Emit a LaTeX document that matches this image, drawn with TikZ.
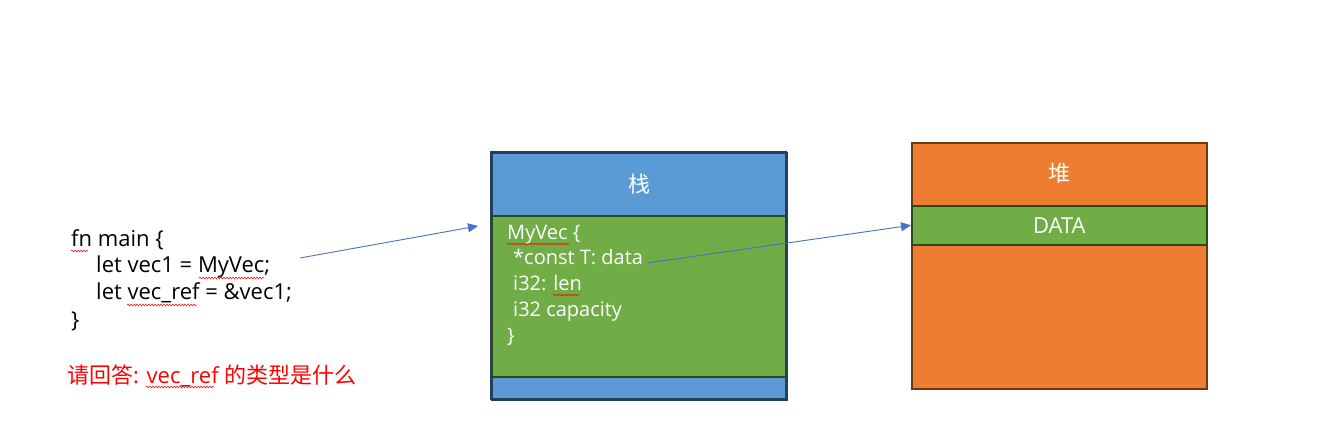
\documentclass[tikz,border=0pt]{standalone}
\usepackage{fontspec}
\setmainfont{Open Sans}
\newfontfamily\cjk{Noto Sans CJK SC}
\usetikzlibrary{arrows.meta,decorations.pathmorphing}
\definecolor{sblue}{HTML}{5B9BD5}
\definecolor{sblueb}{HTML}{223F5C}
\definecolor{sgreen}{HTML}{70AD47}
\definecolor{sgreenb}{HTML}{2B4A1C}
\definecolor{sorange}{HTML}{ED7D31}
\definecolor{sorangeb}{HTML}{6B3A12}
\definecolor{arrowblue}{HTML}{4472C4}
\tikzset{
  x=1pt, y=-1pt,
  cell/.style={draw, line width=1.6pt, minimum width=295pt, inner sep=0pt, anchor=north west, text=white, font=\fontsize{22}{26}\selectfont},
  codetxt/.style={anchor=base west, inner sep=0pt, font=\fontsize{22}{26}\selectfont},
  boxtxt/.style={anchor=base west, inner sep=0pt, text=white, font=\fontsize{20}{24}\selectfont},
  ptr/.style={draw=arrowblue, line width=0.9pt, -{Triangle[length=10pt,width=9pt]}},
  squiggle/.style={draw=red, line width=0.5pt, decorate, decoration={snake, amplitude=0.9pt, segment length=3pt}}
}
\begin{document}
\begin{tikzpicture}
\useasboundingbox (0,0) rectangle (1339,446);
% stack
\node[cell, fill=sblue, draw=sblueb, minimum height=63pt] (stacktop) at (491,152) {\cjk 栈};
\node[cell, fill=sblue, draw=sblueb, minimum height=23pt] (stackbot) at (491,376) {};
\node[cell, fill=sgreen, draw=sgreenb, minimum height=161pt] (stackmid) at (491,215) {};
\draw[sblueb, line width=1.6pt] (491,152) rectangle (786,399);
% heap
\node[cell, fill=sorange, draw=sorangeb, minimum height=246pt] (heap) at (911,142) {};
\node[cell, fill=sgreen, draw=sgreenb, minimum height=39pt] (heapdata) at (911,205) {DATA};
\node[text=white, font=\fontsize{22}{26}\selectfont\cjk] (heaptitle) at (1059,173) {堆};
% stack contents
\node[boxtxt] (s1) at (507,240) {MyVec \{};
\node[boxtxt] (s2) at (513,265) {*const T: data};
\node[boxtxt] (s3) at (513,291) {i32: len};
\node[boxtxt] (s4) at (513,317) {i32 capacity};
\node[boxtxt] (s5) at (507,343) {\}};
% code
\node[codetxt] (c1) at (71,247) {fn main \{};
\node[codetxt] (c2) at (96,273) {let vec1 = MyVec;};
\node[codetxt] (c3) at (96,300) {let vec\_ref = \&vec1;};
\node[codetxt] (c4) at (71,327) {\}};
\node[codetxt, text=red] (q) at (67,383) {{\cjk 请回答}: vec\_ref {\cjk 的类型是什么}};
% squiggles
\draw[squiggle] (71,251) -- (88,251);
\draw[squiggle] (199,278) -- (264,278);
\draw[squiggle] (127,305) -- (197,305);
\draw[squiggle] (146,387) -- (214,387);
\draw[squiggle] (507,244) -- (570,244);
\draw[squiggle] (553,295) -- (580,295);
% arrows
\coordinate (codeend) at (300,258);
\coordinate (stackin) at (478,226);
\draw[ptr] (codeend) -- (stackin);
\draw[ptr] ([xshift=4pt,yshift=2pt]s2.base east) -- (heapdata.west);
\end{tikzpicture}
\end{document}
